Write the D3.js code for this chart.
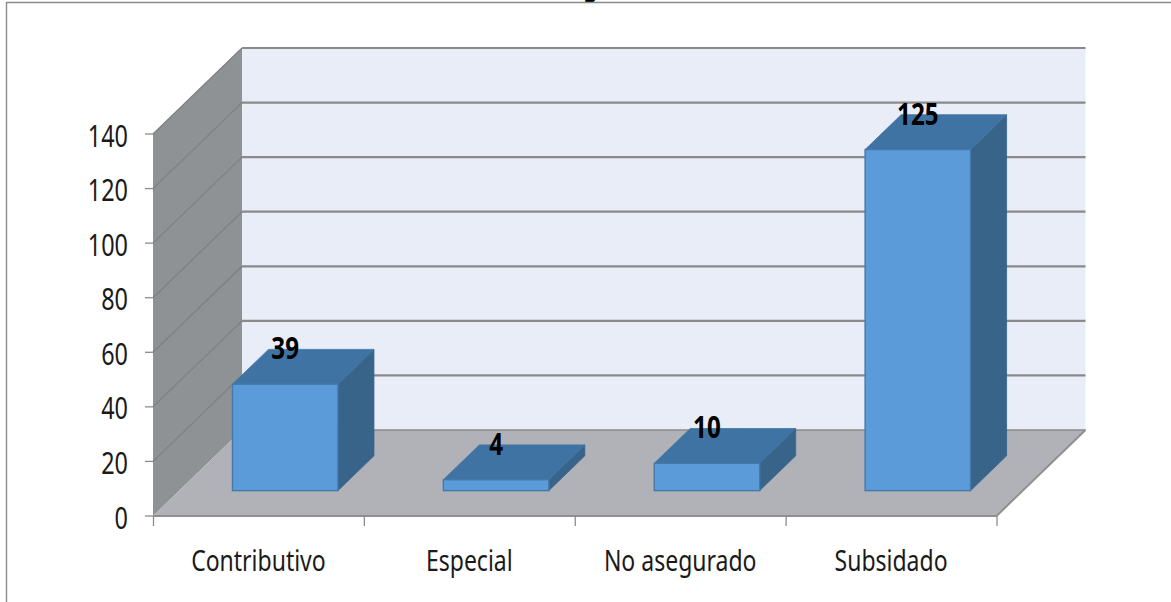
<!DOCTYPE html>
<html><head><meta charset="utf-8">
<script src="https://cdn.jsdelivr.net/npm/d3@7"></script>
<style>
html,body{margin:0;padding:0;background:#fff;overflow:hidden}
text{font-family:"Noto Sans","Liberation Sans",sans-serif}
</style></head><body>
<svg id="c" width="1171" height="602"></svg>
<script>
const categories=["Contributivo","Especial","No asegurado","Subsidado"];
const values=[39,4,10,125];
const yTicks=[0,20,40,60,80,100,120,140];

const svg=d3.select("#c");
const front={x0:153,x1:996.5,y0:516,y1:134};
const depth={dx:89,dy:-86};
const y=d3.scaleLinear().domain([0,140]).range([front.y0,front.y1]);
const x=d3.scaleBand().domain(categories).range([front.x0,front.x1]).paddingInner(.5).paddingOuter(.25);
const xTickScale=d3.scalePoint().domain(d3.range(categories.length+1)).range([front.x0,front.x1]);
const path=p=>"M"+p.map(a=>a.join(",")).join("L")+"Z";
const gridCol="#8a8a8a";
const sx=.78;

// cropped title descender above the frame
svg.append("text").attr("transform",`translate(590.5,-4) scale(${sx},1)`).attr("text-anchor","middle")
  .attr("font-size",28).attr("font-weight","bold").attr("fill","#000").text("g");

// frame
svg.append("path").attr("d","M6.5,602V2.5H1171").attr("fill","none").attr("stroke","#8c8c8c").attr("stroke-width",1.4);

// back wall
svg.append("rect").attr("x",front.x0+depth.dx).attr("y",y(140)+depth.dy)
  .attr("width",front.x1-front.x0).attr("height",y(0)-y(140)).attr("fill","#e9edf8");
// side wall
svg.append("path").attr("d",path([[front.x0,y(0)],[front.x0,y(140)],[front.x0+depth.dx,y(140)+depth.dy],[front.x0+depth.dx,y(0)+depth.dy]]))
  .attr("fill","#8f9295");
// floor
svg.append("path").attr("d",path([[front.x0,y(0)],[front.x1,y(0)],[front.x1+depth.dx,y(0)+depth.dy],[front.x0+depth.dx,y(0)+depth.dy]]))
  .attr("fill","#b0b2b8");

// gridlines
const grid=svg.append("g").attr("fill","none");
yTicks.forEach(t=>{
  const yy=y(t);
  if(t>0) grid.append("path").attr("d",`M${front.x0},${yy}L${front.x0+depth.dx},${yy+depth.dy}`).attr("stroke","#7d7f80").attr("stroke-width",1.2);
  grid.append("path").attr("d",`M${front.x0+depth.dx},${yy+depth.dy}H${front.x1+depth.dx}`).attr("stroke",gridCol).attr("stroke-width",t===0?1.6:2.2);
});
// floor edge
grid.append("path").attr("d",`M${front.x0},${y(0)}H${front.x1}L${front.x1+depth.dx},${y(0)+depth.dy}`).attr("stroke","#8f8f8f").attr("stroke-width",2);

// axis ticks and tick labels
const ya=svg.append("g");
ya.selectAll("line").data(yTicks).join("line")
  .attr("x1",front.x0-8).attr("x2",front.x0).attr("y1",d=>y(d)).attr("y2",d=>y(d)).attr("stroke","#8c8c8c").attr("stroke-width",1.3);
ya.selectAll("text").data(yTicks).join("text")
  .attr("transform",d=>`translate(128,${y(d)+12.5}) scale(${sx},1)`).attr("text-anchor","end").attr("font-size",30).attr("fill","#1a1a1a").text(d=>d);
const xa=svg.append("g");
xa.selectAll("line").data(d3.range(categories.length+1)).join("line")
  .attr("x1",d=>xTickScale(d)+.5).attr("x2",d=>xTickScale(d)+.5).attr("y1",y(0)).attr("y2",y(0)+10).attr("stroke","#8c8c8c").attr("stroke-width",1.3);
xa.selectAll("text").data(categories).join("text")
  .attr("transform",d=>`translate(${x(d)+x.bandwidth()/2},571) scale(${sx},1)`).attr("text-anchor","middle").attr("font-size",29.5).attr("fill","#1a1a1a").text(d=>d);

// 3D bars
const bf=.295, bb=.70; // front and back of each bar as a share of the floor depth
const bd={dx:depth.dx*(bb-bf),dy:depth.dy*(bb-bf)};
const bars=svg.append("g").selectAll("g").data(values.map((v,i)=>({v,c:categories[i]}))).join("g");
const L=d=>x(d.c)+depth.dx*bf+.5, R=d=>L(d)+x.bandwidth();
const B=()=>y(0)+depth.dy*bf, T=d=>y(d.v)+depth.dy*bf;
bars.append("path").attr("d",d=>path([[R(d),B()],[R(d),T(d)],[R(d)+bd.dx,T(d)+bd.dy],[R(d)+bd.dx,B()+bd.dy]])).attr("fill","#38648a").attr("stroke","#38648a").attr("stroke-width",.8);
bars.append("path").attr("d",d=>path([[L(d),T(d)],[R(d),T(d)],[R(d)+bd.dx,T(d)+bd.dy],[L(d)+bd.dx,T(d)+bd.dy]])).attr("fill","#3f73a3").attr("stroke","#3f73a3").attr("stroke-width",.8);
bars.append("rect").attr("x",L).attr("y",T).attr("width",x.bandwidth()).attr("height",d=>B()-T(d)).attr("fill","#5b9bd9").attr("stroke","#4679ab").attr("stroke-width",1.4);
bars.append("text").attr("transform",d=>`translate(${L(d)+x.bandwidth()/2},${T(d)-25}) scale(${sx},1)`).attr("text-anchor","middle").attr("font-size",31).attr("font-weight","bold").attr("fill","#000").text(d=>d.v);
</script></body></html>
